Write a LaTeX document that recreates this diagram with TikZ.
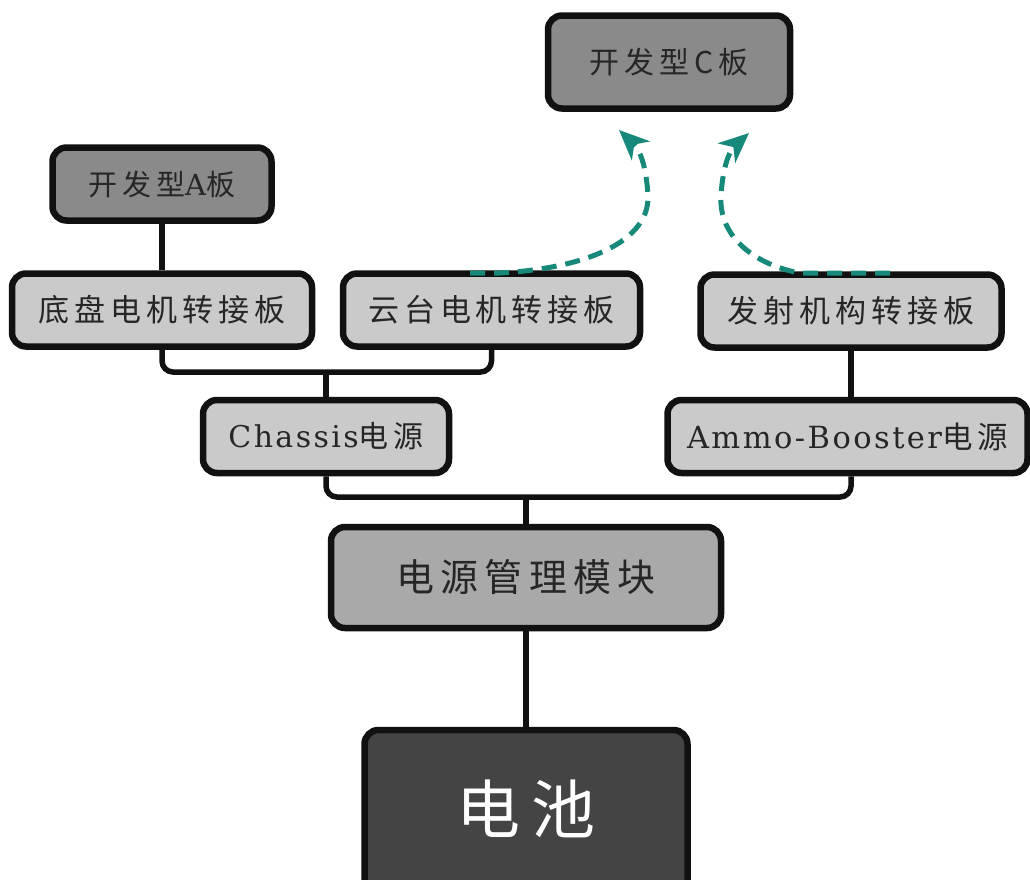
\documentclass[tikz,border=0pt]{standalone}
\usepackage{fontspec}
\setmainfont{Noto Sans CJK SC}[LetterSpace=16]
\newfontfamily\lat{DejaVu Serif}[LetterSpace=8]
\usetikzlibrary{arrows.meta}
\definecolor{edge}{HTML}{111111}
\definecolor{txt}{HTML}{262626}
\definecolor{lightbox}{HTML}{CACACA}
\definecolor{midbox}{HTML}{A9A9A9}
\definecolor{darkbox}{HTML}{8A8A8A}
\definecolor{batbox}{HTML}{444444}
\definecolor{teal}{HTML}{16897A}
\tikzset{
  box/.style={draw=edge, line width=6.5pt, rounded corners=14pt, inner sep=0pt, text=txt},
  small/.style={box, fill=lightbox, minimum height=73pt, font=\fontsize{31}{34}\selectfont},
  conn/.style={draw=edge, line width=5.5pt, rounded corners=11pt},
  flow/.style={draw=teal, line width=5pt, dash pattern=on 15pt off 9pt, -{Stealth[length=30pt,width=26pt,inset=9pt]}}
}
\begin{document}
\begin{tikzpicture}[x=1pt,y=-1pt]
\useasboundingbox (0,0) rectangle (1030,879);
% nodes
\node[box, fill=darkbox, minimum width=242pt, minimum height=93pt, font=\fontsize{30}{32}\selectfont] (C) at (669,62) {开发型C板};
\node[box, fill=darkbox, minimum width=219pt, minimum height=73pt, font=\fontsize{29}{32}\selectfont] (A) at (162,184) {开发型{\lat A}板};
\node[small, minimum width=300pt] (di) at (162,310) {底盘电机转接板};
\node[small, minimum width=297pt] (yt) at (491.5,310) {云台电机转接板};
\node[small, minimum width=301pt] (fs) at (851,311) {发射机构转接板};
\node[small, minimum width=246pt, font=\fontsize{30}{33}\selectfont] (ch) at (326,436.5) {{\lat Chassis}电源};
\node[small, minimum width=360pt, font=\fontsize{30.5}{33}\selectfont] (am) at (847.5,436.5) {{\lat Ammo-Booster}电源};
\node[box, fill=midbox, minimum width=390pt, minimum height=101pt, font=\fontsize{38}{42}\selectfont] (pm) at (526,577.5) {电源管理模块};
\node[box, fill=batbox, text=white, minimum width=323pt, minimum height=200pt, font=\fontsize{64}{70}\selectfont] (bat) at (526,830) {\raisebox{46pt}{电池}};
% junction coordinates
\path (0,372) coordinate (y1) (0,497) coordinate (y2);
\coordinate (j1) at (ch.north |- y1);
\coordinate (j2) at (pm.north |- y2);
% connectors
\draw[conn] (A) -- (di);
\draw[conn] (di.south) |- (j1) -| (yt.south);
\draw[conn] (j1) -- (ch.north);
\draw[conn] (ch.south) |- (j2) -| (am.south -| fs.south);
\draw[conn] (j2) -- (pm.north);
\draw[conn] (fs.south) -- (fs.south |- am.north);
\draw[conn] (pm.south) -- (bat.north);
% dashed flows to C board
\coordinate (s1) at (470,273);
\coordinate (e1) at (619,130);
\coordinate (s2) at (890,273);
\coordinate (e2) at (749,133);
\draw[flow] (s1) -- (500,273) .. controls (590,268) and (650,240) .. (648,195) .. controls (646,165) and (640,150) .. (e1);
\draw[flow] (s2) -- (800,273) .. controls (760,266) and (718,240) .. (721,195) .. controls (723,165) and (730,150) .. (e2);
\end{tikzpicture}
\end{document}
